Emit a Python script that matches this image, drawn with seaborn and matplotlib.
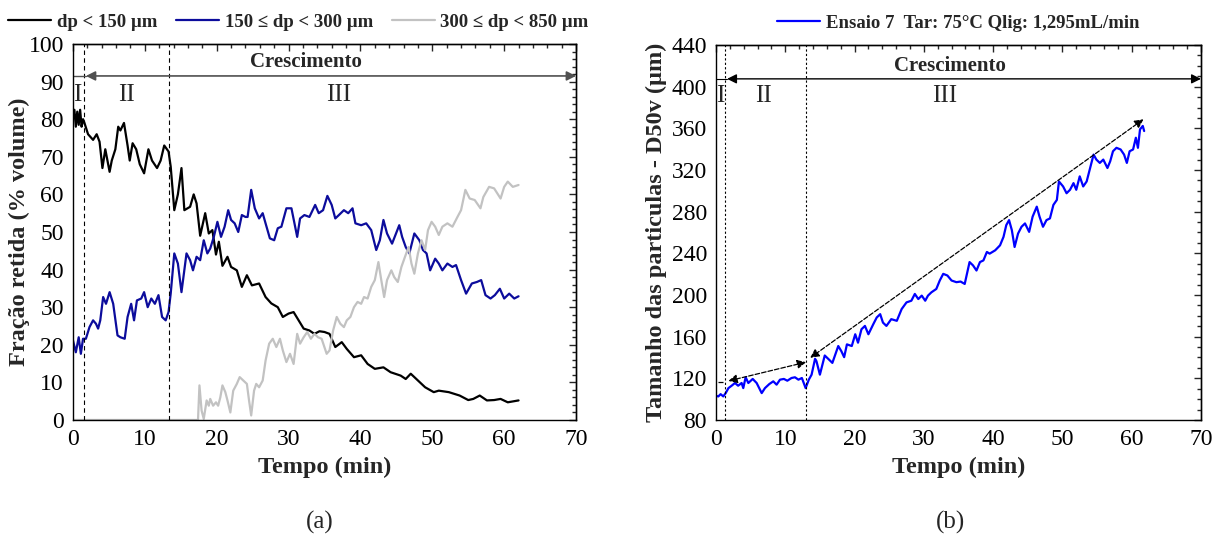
import numpy as np
import pandas as pd
import seaborn as sns
import matplotlib
matplotlib.use("Agg")
import matplotlib.pyplot as plt
from matplotlib.ticker import MultipleLocator

# ---------------- data: particle size fractions vs time ----------------
black_t = [0, 0.2, 0.4, 0.6, 0.8, 1.0, 1.2, 1.4, 1.6, 2.1,
           2.8, 3.3, 3.7, 4.1, 4.5, 5.1, 5.4, 5.9, 6.3, 6.6,
           7.1, 7.6, 7.9, 8.3, 8.8, 9.3, 9.9, 10.5, 11.0, 11.7,
           12.2, 12.7, 13.3, 13.6, 14.1, 14.6, 15.1, 15.5, 16.3, 16.8,
           17.2, 17.7, 18.4, 18.9, 19.4, 19.9, 20.3, 20.8, 21.5, 22.0,
           22.8, 23.5, 24.2, 24.9, 25.9, 26.8, 27.6, 28.5, 29.2, 30.0,
           30.7, 31.4, 32.1, 32.9, 33.6, 34.3, 35.0, 35.7, 36.5, 37.4,
           38.1, 39.1, 40.1, 41.0, 42.0, 43.2, 44.2, 45.6, 46.3, 47.0,
           48.0, 49.0, 50.2, 50.9, 52.3, 53.8, 55.0, 55.7, 56.6, 57.6,
           58.6, 59.5, 60.5, 62.0]
black_v = [80, 82.5, 78, 82, 78.5, 82.5, 78, 80, 79, 76,
           74.5, 76, 74, 67, 72, 66, 69, 72, 78, 77,
           79, 73, 69, 73.6, 72, 68, 65.6, 72, 69, 67,
           69, 73, 71.4, 67.4, 55.8, 60, 67, 55.8, 56.7, 60,
           57.6, 49, 55, 49.6, 50.5, 44, 47.4, 41, 43.4, 40.7,
           39.8, 35.4, 38.5, 35.8, 36.3, 32.7, 31, 30, 27.4, 28.3,
           28.7, 26.5, 24.3, 23.8, 22.9, 23.6, 23.4, 22.9, 19.4, 20.7,
           18.9, 16.7, 17.2, 14.9, 13.6, 14, 12.7, 11.8, 10.9, 12.3,
           10.5, 8.7, 7.4, 7.8, 7.4, 6.5, 5.3, 5.6, 6.5, 5.2,
           5.3, 5.6, 4.7, 5.2]

navy_t = [0, 0.4, 0.8, 1.1, 1.4, 1.8, 2.3, 2.8, 3.2, 3.5,
          3.8, 4.2, 4.6, 5.1, 5.6, 6.2, 6.6, 7.2, 7.6, 8.1,
          8.5, 8.9, 9.5, 9.9, 10.4, 10.9, 11.4, 11.9, 12.4, 12.9,
          13.3, 13.6, 14.1, 14.6, 15.1, 15.8, 16.3, 16.7, 17.2, 17.7,
          18.2, 18.7, 19.1, 19.6, 20.1, 20.6, 21.1, 21.6, 22.0, 22.5,
          23.0, 23.5, 24.0, 24.3, 24.8, 25.3, 25.9, 26.4, 26.8, 27.4,
          28.0, 28.5, 29.0, 29.7, 30.4, 31.2, 31.6, 32.2, 32.9, 33.7,
          34.2, 34.8, 35.4, 36.0, 36.5, 37.0, 37.7, 38.3, 38.9, 39.3,
          40.1, 40.8, 41.5, 42.2, 42.7, 43.2, 43.7, 44.4, 45.4, 45.8,
          46.3, 46.8, 47.5, 48.2, 48.7, 49.2, 49.7, 50.4, 50.9, 51.4,
          52.1, 52.8, 53.3, 54.0, 54.7, 55.5, 56.2, 56.8, 57.4, 58.1,
          58.7, 59.4, 60.0, 60.7, 61.4, 62.0]
navy_v = [21.2, 18, 22, 17.6, 21.6, 21.6, 24.7, 26.5, 25.6, 24.3,
          26.5, 32.7, 30.9, 34, 30.9, 22.5, 22, 21.6, 27.4, 30.9,
          26.5, 31.8, 32.3, 34, 30, 32.3, 30.9, 33.2, 27.4, 26.5,
          28.7, 33.6, 44.3, 41.6, 34, 44.3, 42.5, 39.8, 43.4, 42.5,
          47.8, 44.3, 45.6, 48.7, 52.7, 48.7, 51.4, 55.8, 53.2, 52.3,
          50, 54.5, 54, 54, 61.2, 56.3, 53.6, 55, 52.3, 48.3,
          47.8, 51, 51.4, 56.3, 56.3, 48.7, 53.6, 54.5, 54, 57.2,
          55, 55.8, 59.6, 57.2, 53.6, 54.5, 55.8, 55, 56.3, 52.3,
          51.8, 52.3, 50.5, 45.2, 47.8, 53.2, 49.6, 46.9, 51.8, 48.7,
          46, 44.3, 49.6, 47.8, 45.2, 44.3, 39.8, 42.9, 41.6, 39.8,
          41.6, 40.7, 41.2, 37.2, 33.6, 36.3, 36.7, 37.2, 33.2, 32.3,
          33.2, 34.9, 32.3, 33.6, 32.3, 32.9]

gray_t = [0, 17.4, 17.6, 17.9, 18.2, 18.6, 18.9, 19.1, 19.5, 19.9,
          20.2, 20.5, 20.8, 21.2, 21.5, 21.9, 22.3, 22.8, 23.2, 23.7,
          24.2, 24.5, 24.8, 25.2, 25.5, 25.9, 26.4, 26.8, 27.3, 27.8,
          28.3, 28.8, 29.2, 29.7, 30.2, 30.7, 31.2, 31.6, 32.1, 32.6,
          33.1, 33.6, 34.1, 34.6, 35.3, 35.7, 36.2, 36.7, 37.2, 37.7,
          38.1, 38.6, 39.1, 39.6, 40.1, 40.5, 41.0, 41.5, 42.0, 42.5,
          42.9, 43.3, 43.7, 44.3, 44.7, 45.2, 45.7, 46.2, 46.7, 47.1,
          47.5, 48.0, 48.5, 49.0, 49.4, 49.9, 50.4, 50.9, 51.4, 52.1,
          52.8, 53.5, 54.0, 54.6, 55.2, 55.9, 56.7, 57.1, 57.9, 58.6,
          59.5, 60.0, 60.5, 61.2, 62.0]
gray_v = [0, 0, 9.2, 2.5, 0.3, 5.2, 3.8, 5.6, 3.8, 4.7,
          3.8, 6, 9.2, 7.4, 5.2, 2, 7.8, 9.6, 11.4, 10.5,
          9.6, 5.2, 1.2, 7.8, 9.6, 8.7, 10.5, 15.8, 20.3, 21.6,
          19.4, 21.6, 18.5, 15.4, 17.6, 14.9, 22.9, 20.3, 22, 23.4,
          21.6, 22.9, 22, 21.6, 17.6, 18.5, 23.8, 27.4, 25.6, 24.7,
          26.5, 27.4, 30, 31.4, 30.9, 32.7, 32.3, 35.4, 37.2, 42,
          37.2, 32.7, 37.2, 39.8, 38, 36.7, 40.7, 43.4, 46, 41.6,
          38.9, 44.3, 47.8, 45.2, 50.5, 52.7, 51.4, 49.2, 51.4, 52.3,
          51.4, 54, 55.8, 61.2, 58.9, 58.5, 56.3, 59.3, 62, 61.6,
          58.9, 62, 63.4, 62, 62.5]

# ---------------- data: median particle size D50v vs time ----------------
d50_t = [0, 0.34, 0.67, 1.06, 1.4, 1.8, 2.26, 2.74, 3.2, 3.7,
         3.94, 4.28, 4.67, 5.3, 5.87, 6.6, 7.07, 7.7, 8.27, 8.75,
         9.24, 9.8, 10.3, 10.9, 11.4, 11.9, 12.4, 12.94, 13.4, 13.8,
         14.3, 14.5, 15.0, 15.7, 16.2, 16.8, 17.65, 18.1, 18.5, 18.9,
         19.6, 20.1, 20.5, 21.0, 21.5, 22.0, 22.7, 23.2, 23.7, 24.1,
         24.6, 25.3, 26.1, 26.8, 27.5, 28.2, 28.7, 29.2, 29.7, 30.2,
         30.6, 31.1, 31.8, 32.3, 32.8, 33.4, 34.0, 34.7, 35.3, 35.9,
         36.6, 37.1, 37.6, 38.1, 38.6, 39.1, 39.5, 40.3, 41.0, 41.5,
         41.9, 42.3, 42.7, 43.1, 43.6, 44.1, 44.6, 45.2, 45.7, 46.3,
         46.7, 47.2, 47.7, 48.2, 48.7, 49.2, 49.5, 50.1, 50.6, 51.1,
         51.6, 52.0, 52.5, 53.0, 53.5, 54.0, 54.5, 54.9, 55.4, 55.9,
         56.5, 56.9, 57.3, 57.8, 58.4, 58.9, 59.3, 59.7, 60.2, 60.6,
         60.9, 61.2, 61.6, 61.8]
d50_v = [103.2, 102.6, 104.8, 102.6, 105.8, 110.6, 112.9, 115.5, 112.9, 115.5,
         110.6, 121, 115.5, 119.4, 115.5, 105.8, 110.6, 114.5, 117.1, 113.9,
         118.7, 119.4, 117.7, 120.3, 121, 118.7, 120.3, 110.6, 118.7, 123.5,
         138.7, 136.5, 123.5, 141.9, 138.7, 134.8, 151, 146, 140.3, 152.6,
         151, 162.3, 154.2, 167.1, 170.3, 162.3, 171.9, 178.4, 181.6, 173.5,
         170.3, 176.8, 175.2, 186.5, 192.9, 194.5, 201, 196.1, 199.4, 194.5,
         199.4, 202.6, 205.8, 213.9, 220.3, 218.7, 213.9, 212.3, 212.9, 210.6,
         231.6, 228.4, 223.5, 231.6, 233.2, 241.3, 239.7, 242.9, 247.7, 255.8,
         267.1, 271.9, 262.3, 246.1, 259, 265.5, 268.7, 260.6, 275.2, 284.8,
         275.2, 265.5, 271.9, 273.5, 286.5, 291.3, 309, 304.2, 297.7, 301,
         307.4, 301, 313.9, 304.2, 309, 321.9, 334.8, 330, 326.8, 330,
         321.9, 328.4, 338, 341.3, 339.7, 334.8, 326.8, 338, 339.7, 351,
         341.3, 359, 362.3, 357.4]

labels_a = ["dp < 150 µm", "150 ≤ dp < 300 µm", "300 ≤ dp < 850 µm"]
label_b = "Ensaio 7  Tar: 75°C Qlig: 1,295mL/min"

# ---------------- style ----------------
sns.set_style("white")
plt.rcParams["font.family"] = ["Liberation Serif", "DejaVu Serif"]

TICK_FS = 17
LABEL_FS = 17.5
ROMAN_FS = 18

fig = plt.figure(figsize=(12.22, 5.41), dpi=100)
ax_a = fig.add_axes([0.0597, 0.2237, 0.4117, 0.695])
ax_b = fig.add_axes([0.5859, 0.2237, 0.3969, 0.6931])


def frame(ax, ymaj, ymin):
    ax.xaxis.set_major_locator(MultipleLocator(10))
    ax.xaxis.set_minor_locator(MultipleLocator(2))
    ax.yaxis.set_major_locator(MultipleLocator(ymaj))
    ax.yaxis.set_minor_locator(MultipleLocator(ymin))
    for s in ax.spines.values():
        s.set_color("black")
        s.set_linewidth(1.0)
    ax.tick_params(which="major", direction="out", length=5, width=1,
                   labelsize=TICK_FS, colors="black", pad=1.5)
    ax.tick_params(which="minor", direction="in", length=3, width=1, colors="black")
    top = ax.secondary_xaxis("top")
    top.xaxis.set_major_locator(MultipleLocator(10))
    top.xaxis.set_minor_locator(MultipleLocator(2))
    top.tick_params(which="major", direction="in", length=5, width=1, labeltop=False)
    top.tick_params(which="minor", direction="in", length=3, width=1)
    right = ax.secondary_yaxis("right")
    right.yaxis.set_major_locator(MultipleLocator(ymaj))
    right.yaxis.set_minor_locator(MultipleLocator(ymin))
    right.tick_params(which="major", direction="in", length=5, width=1, labelright=False)
    right.tick_params(which="minor", direction="in", length=3, width=1)
    for s in list(top.spines.values()) + list(right.spines.values()):
        s.set_linewidth(1.0)


# ---------------- panel (a) ----------------
series_a = [(black_t, black_v, "#000000"),
            (navy_t, navy_v, "#0c0c9c"),
            (gray_t, gray_v, "#c2c2c2")]
for (t, v, c), lab in zip(series_a, labels_a):
    sns.lineplot(x=t, y=v, ax=ax_a, color=c, lw=1.6, label=lab,
                 estimator=None, sort=False)

ax_a.set_xlim(0, 70)
ax_a.set_ylim(0, 100)
frame(ax_a, 10, 2)
ax_a.set_xlabel("Tempo (min)", fontsize=LABEL_FS, fontweight="bold", labelpad=5)
ax_a.set_ylabel("Fração retida (% volume)", fontsize=LABEL_FS, fontweight="bold")
ax_a.yaxis.set_label_coords(-0.086, 0.5)

for xv in (1.5, 13.3):
    ax_a.axvline(xv, color="black", lw=0.8, ls=(0, (4, 3)))

ax_a.plot([0, 1.8], [91.5, 91.5], color="#505050", lw=1)
ax_a.annotate("", xy=(1.8, 91.5), xytext=(70, 91.5),
              arrowprops=dict(arrowstyle="<|-|>", color="#505050", lw=1.2,
                              shrinkA=0, shrinkB=0, mutation_scale=14))
ax_a.text(32.4, 95.3, "Crescimento", ha="center", va="center",
          fontsize=15, fontweight="bold")
ax_a.text(0.65, 86.3, "I", ha="center", va="center", fontsize=ROMAN_FS)
ax_a.text(7.5, 86.3, "II", ha="center", va="center", fontsize=ROMAN_FS)
ax_a.text(37.0, 86.3, "III", ha="center", va="center", fontsize=ROMAN_FS)

leg_a = ax_a.legend(loc="lower left", bbox_to_anchor=(-0.155, 1.0), ncol=3,
                    frameon=False, fontsize=13.5, handlelength=2.3,
                    handletextpad=0.3, columnspacing=1.0, borderaxespad=0.3)
for txt in leg_a.get_texts():
    txt.set_fontweight("bold")

# ---------------- panel (b) ----------------
sns.lineplot(x=d50_t, y=d50_v, ax=ax_b, color="#0000ff", lw=1.6,
             label=label_b, estimator=None, sort=False)
ax_b.set_xlim(0, 70)
ax_b.set_ylim(80, 440)
frame(ax_b, 40, 10)
ax_b.set_xlabel("Tempo (min)", fontsize=LABEL_FS, fontweight="bold", labelpad=5)
ax_b.set_ylabel("Tamanho das particulas - D50v (µm)", fontsize=LABEL_FS,
                fontweight="bold")
ax_b.yaxis.set_label_coords(-0.101, 0.5)

for xv in (1.3, 13.0):
    ax_b.axvline(xv, color="black", lw=0.8, ls=(0, (2, 2)))

ax_b.plot([0, 1.6], [407.5, 407.5], color="black", lw=0.8)
ax_b.annotate("", xy=(1.6, 407.5), xytext=(70, 407.5),
              arrowprops=dict(arrowstyle="<|-|>", color="black", lw=1.0,
                              shrinkA=0, shrinkB=0, mutation_scale=14))
ax_b.text(33.8, 419.5, "Crescimento", ha="center", va="center",
          fontsize=15, fontweight="bold")
ax_b.text(0.65, 391, "I", ha="center", va="center", fontsize=ROMAN_FS)
ax_b.text(6.8, 391, "II", ha="center", va="center", fontsize=ROMAN_FS)
ax_b.text(33.0, 391, "III", ha="center", va="center", fontsize=ROMAN_FS)

# growth trend arrows
ax_b.plot([0.3, 1.4], [116.5, 116.5], color="black", lw=0.9, ls=(0, (4, 3)))
ax_b.annotate("", xy=(1.8, 117.5), xytext=(13.0, 135.5),
              arrowprops=dict(arrowstyle="<|-|>", color="black", lw=0.9, ls="--",
                              shrinkA=0, shrinkB=0, mutation_scale=13))
ax_b.annotate("", xy=(13.6, 139.7), xytext=(61.7, 368.7),
              arrowprops=dict(arrowstyle="<|-|>", color="black", lw=0.9, ls="--",
                              shrinkA=0, shrinkB=0, mutation_scale=13))

leg_b = ax_b.legend(loc="lower center", bbox_to_anchor=(0.5, 1.0), ncol=1,
                    frameon=False, fontsize=13.5, handlelength=2.3,
                    handletextpad=0.3, borderaxespad=0.3)
for txt in leg_b.get_texts():
    txt.set_fontweight("bold")

fig.text(0.262, 0.035, "(a)", ha="center", va="center", fontsize=18)
fig.text(0.778, 0.035, "(b)", ha="center", va="center", fontsize=18)

fig.savefig("out.png", dpi=100)
